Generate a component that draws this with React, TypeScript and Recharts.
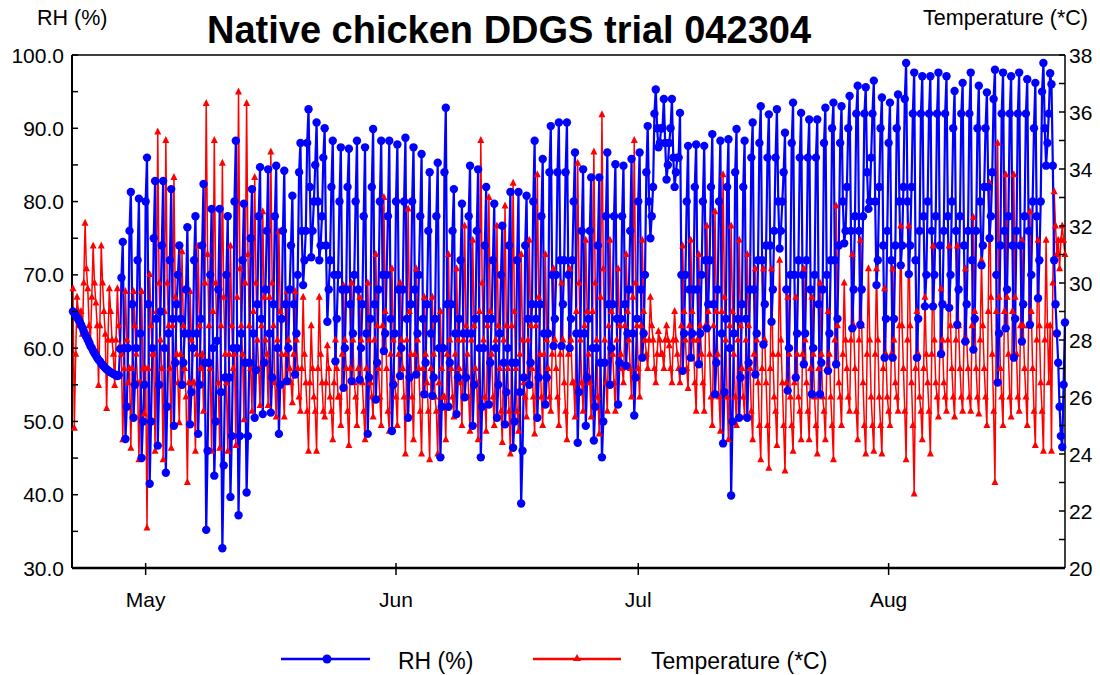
import React from "react";
import { LineChart, Line, XAxis, YAxis, ReferenceLine } from "recharts";

// time axis: days since Apr 22, six readings a day (00, 04, 08, 12, 16, 20 h)
const SAMPLES_PER_DAY = 6;
const monthTicks = [9, 40, 70, 101];
const monthLabels = ["May", "Jun", "Jul", "Aug"];
const rhTicks = [30, 35, 40, 45, 50, 55, 60, 65, 70, 75, 80, 85, 90, 95, 100];
const tempTicks = [20, 21, 22, 23, 24, 25, 26, 27, 28, 29, 30, 31, 32, 33, 34, 35, 36, 37, 38];

// RH (%), one row per day
const rhApr = [
  65.0, 64.8, 64.5, 64.2, 63.9, 63.6,
  63.2, 62.8, 62.3, 61.9, 61.5, 61.1,
  60.7, 60.3, 60.0, 59.6, 59.3, 59.0,
  58.7, 58.4, 58.2, 57.9, 57.7, 57.5,
  57.3, 57.1, 57.0, 56.8, 56.7, 56.6,
  56.5, 56.4, 56.3, 56.2, 56.3, 59.9,
  69.6, 74.5, 60.0, 47.6, 52.0, 60.0,
  76.0, 81.3, 66.0, 50.5, 55.0, 60.0,
  72.0, 80.4, 62.0, 45.0, 50.0, 55.0,
];
const rhMay = [
  80.0, 86.0, 66.0, 41.5, 50.0, 60.0,
  75.0, 82.8, 64.0, 46.7, 55.0, 65.0,
  74.0, 82.8, 60.0, 43.0, 52.0, 62.0,
  72.0, 81.7, 64.0, 49.4, 58.0, 66.0,
  70.0, 74.0, 64.0, 55.0, 58.0, 62.0,
  68.0, 76.5, 62.0, 49.6, 54.0, 60.0,
  72.0, 78.0, 62.0, 48.3, 55.0, 64.0,
  74.0, 82.4, 58.0, 35.2, 46.0, 58.0,
  70.0, 79.0, 60.0, 42.6, 50.0, 61.0,
  68.0, 79.0, 54.0, 32.7, 44.0, 56.0,
  70.0, 78.0, 56.0, 39.7, 48.0, 60.0,
  80.0, 88.3, 60.0, 37.2, 48.0, 62.0,
  72.0, 79.7, 58.0, 40.3, 48.0, 58.0,
  75.0, 81.7, 62.0, 50.5, 57.0, 66.0,
  78.0, 84.7, 64.0, 51.0, 58.0, 68.0,
  76.0, 84.4, 62.0, 51.2, 56.0, 66.0,
  78.0, 84.9, 60.0, 48.3, 55.0, 64.0,
  76.0, 84.2, 66.0, 55.5, 60.0, 68.0,
  74.0, 80.8, 66.0, 56.4, 62.0, 70.0,
  84.0, 88.0, 76.0, 68.6, 72.0, 76.0,
  88.0, 92.6, 82.0, 72.4, 76.0, 80.0,
  85.0, 90.8, 80.0, 72.0, 74.0, 78.0,
  86.0, 90.0, 74.0, 63.6, 68.0, 72.0,
  82.0, 88.3, 70.0, 58.2, 64.0, 70.0,
  80.0, 87.4, 68.0, 54.6, 60.0, 68.0,
  82.0, 87.2, 66.0, 55.5, 62.0, 70.0,
  80.0, 88.3, 68.0, 55.7, 60.0, 66.0,
  78.0, 87.4, 62.0, 48.3, 56.0, 64.0,
  82.0, 89.9, 66.0, 53.0, 58.0, 68.0,
  80.0, 88.3, 70.0, 59.6, 62.0, 70.0,
  78.0, 88.3, 64.0, 48.7, 55.0, 62.0,
];
const rhJun = [
  80.0, 87.8, 68.0, 56.2, 60.0, 68.0,
  80.0, 88.7, 64.0, 50.5, 56.0, 66.0,
  80.0, 87.4, 68.0, 56.4, 62.0, 70.0,
  78.0, 86.5, 64.0, 53.7, 58.0, 66.0,
  76.0, 84.0, 62.0, 53.5, 56.0, 64.0,
  78.0, 85.3, 60.0, 45.1, 52.0, 60.0,
  84.0, 92.8, 66.0, 52.0, 58.0, 66.0,
  76.0, 81.7, 62.0, 51.0, 56.0, 64.0,
  72.0, 79.7, 62.0, 53.3, 56.0, 62.0,
  78.0, 84.9, 62.0, 49.4, 55.0, 64.0,
  76.0, 84.4, 60.0, 45.1, 52.0, 60.0,
  74.0, 82.0, 64.0, 52.3, 58.0, 64.0,
  72.0, 79.7, 60.0, 50.5, 55.0, 62.0,
  70.0, 76.7, 58.0, 49.6, 54.0, 60.0,
  74.0, 81.3, 58.0, 46.4, 50.0, 58.0,
  72.0, 81.3, 54.0, 38.8, 46.0, 56.0,
  74.0, 80.8, 64.0, 55.0, 58.0, 66.0,
  80.0, 88.3, 64.0, 50.5, 56.0, 66.0,
  78.0, 85.8, 62.0, 52.3, 56.0, 62.0,
  84.0, 90.3, 70.0, 60.3, 64.0, 70.0,
  84.0, 90.8, 72.0, 60.3, 66.0, 72.0,
  84.0, 90.8, 70.0, 60.0, 64.0, 72.0,
  80.0, 86.7, 62.0, 47.1, 54.0, 62.0,
  76.0, 84.4, 62.0, 49.4, 56.0, 64.0,
  76.0, 83.3, 60.0, 47.4, 52.0, 60.0,
  74.0, 83.3, 58.0, 45.1, 50.0, 58.0,
  78.0, 86.7, 66.0, 55.0, 60.0, 66.0,
  78.0, 85.1, 64.0, 52.3, 58.0, 64.0,
  78.0, 84.9, 66.0, 57.6, 62.0, 68.0,
  76.0, 85.8, 62.0, 50.8, 56.0, 64.0,
];
const rhJul = [
  80.0, 86.7, 68.0, 58.7, 62.0, 70.0,
  84.0, 90.3, 80.0, 75.0, 78.0, 82.0,
  92.0, 95.3, 90.0, 87.4, 88.0, 90.0,
  90.0, 94.0, 88.0, 83.0, 85.0, 88.0,
  90.0, 94.0, 86.0, 82.0, 84.0, 86.0,
  86.0, 92.1, 70.0, 56.9, 62.0, 70.0,
  80.0, 87.6, 68.0, 58.7, 62.0, 68.0,
  82.0, 87.8, 68.0, 57.8, 62.0, 70.0,
  80.0, 87.6, 72.0, 62.7, 66.0, 72.0,
  82.0, 89.2, 66.0, 53.7, 58.0, 68.0,
  80.0, 88.3, 62.0, 47.0, 54.0, 64.0,
  82.0, 88.5, 60.0, 39.9, 50.0, 62.0,
  84.0, 89.9, 64.0, 50.5, 56.0, 66.0,
  82.0, 88.3, 64.0, 50.5, 58.0, 68.0,
  86.0, 90.8, 68.0, 56.4, 62.0, 72.0,
  88.0, 93.0, 72.0, 60.5, 66.0, 74.0,
  86.0, 91.9, 74.0, 63.6, 68.0, 76.0,
  86.0, 92.6, 80.0, 73.6, 76.0, 80.0,
  84.0, 89.4, 68.0, 54.2, 60.0, 70.0,
  88.0, 93.5, 70.0, 56.0, 62.0, 72.0,
  86.0, 92.1, 70.0, 57.8, 62.0, 72.0,
  86.0, 91.2, 68.0, 53.7, 60.0, 70.0,
  86.0, 91.2, 66.0, 53.7, 58.0, 68.0,
  88.0, 92.8, 70.0, 56.9, 62.0, 72.0,
  90.0, 93.5, 72.0, 57.8, 64.0, 74.0,
  88.0, 93.0, 80.0, 74.3, 76.0, 82.0,
  90.0, 94.4, 76.0, 62.7, 68.0, 78.0,
  92.0, 95.8, 76.0, 63.2, 68.0, 78.0,
  92.0, 95.6, 84.0, 79.0, 80.0, 86.0,
  92.0, 96.5, 80.0, 68.6, 72.0, 82.0,
  90.0, 94.2, 74.0, 58.7, 64.0, 76.0,
];
const rhAug = [
  88.0, 93.5, 72.0, 58.7, 64.0, 74.0,
  90.0, 94.6, 80.0, 71.3, 74.0, 82.0,
  94.0, 98.9, 80.0, 70.1, 74.0, 82.0,
  92.0, 97.6, 72.0, 58.7, 64.0, 76.0,
  92.0, 97.1, 78.0, 65.7, 70.0, 80.0,
  92.0, 97.1, 76.0, 65.7, 70.0, 78.0,
  92.0, 97.6, 74.0, 59.2, 66.0, 76.0,
  92.0, 97.1, 78.0, 65.5, 70.0, 80.0,
  90.0, 95.1, 76.0, 63.2, 68.0, 78.0,
  92.0, 96.2, 74.0, 60.9, 66.0, 76.0,
  92.0, 97.6, 72.0, 59.8, 64.0, 76.0,
  90.0, 95.8, 80.0, 71.3, 74.0, 82.0,
  90.0, 94.9, 82.0, 75.0, 78.0, 84.0,
  94.0, 98.0, 70.0, 55.3, 62.0, 74.0,
  92.0, 97.6, 76.0, 62.7, 68.0, 78.0,
  92.0, 97.1, 74.0, 58.7, 64.0, 76.0,
  92.0, 97.6, 74.0, 60.9, 66.0, 78.0,
  92.0, 96.7, 76.0, 63.2, 70.0, 80.0,
  90.0, 96.2, 78.0, 66.8, 72.0, 80.0,
  95.0, 98.9, 90.0, 84.9, 88.0, 92.0,
  97.5, 96.0, 84.9, 72.0, 66.0, 62.0,
  58.0, 52.0, 48.0, 46.5, 55.0, 63.5,
];

// Temperature (*C), one row per day
const tempApr = [
  29.8, 24.9, 27.5, 29.5, 29.0, 28.5,
  29.0, 28.2, 30.0, 32.1, 30.5, 29.8,
  28.5, 28.0, 29.5, 31.3, 30.0, 29.3,
  28.5, 26.4, 28.5, 31.3, 30.0, 29.0,
  28.2, 25.6, 28.0, 29.8, 29.0, 28.0,
  27.5, 26.4, 28.0, 29.8, 28.5, 27.8,
  27.5, 24.5, 27.0, 29.7, 28.0, 26.5,
  27.0, 24.2, 27.0, 29.7, 28.5, 27.5,
  26.5, 23.8, 26.5, 29.7, 27.0, 25.4,
];
const tempMay = [
  27.0, 21.4, 27.0, 30.3, 28.5, 27.5,
  27.5, 24.1, 29.0, 35.3, 30.0, 28.0,
  27.0, 23.8, 29.0, 35.0, 30.0, 28.5,
  27.0, 24.2, 28.5, 33.7, 29.5, 27.5,
  26.5, 25.1, 27.5, 31.1, 28.5, 27.0,
  26.0, 23.0, 26.5, 29.7, 28.0, 26.5,
  26.5, 24.1, 27.5, 31.3, 28.5, 27.0,
  27.5, 25.5, 30.0, 36.3, 31.0, 28.5,
  27.0, 24.1, 29.0, 35.0, 30.0, 28.0,
  26.5, 24.2, 28.5, 34.2, 29.5, 27.5,
  26.5, 24.1, 27.5, 31.3, 28.5, 27.0,
  27.5, 24.3, 29.5, 36.7, 30.5, 28.5,
  27.5, 25.2, 30.0, 36.3, 31.0, 28.5,
  27.0, 25.5, 29.0, 33.7, 30.0, 28.0,
  27.0, 25.7, 28.5, 32.5, 29.5, 28.0,
  27.5, 25.7, 29.5, 34.6, 30.0, 28.5,
  26.5, 25.3, 28.0, 31.8, 29.0, 27.5,
  26.5, 25.3, 27.5, 29.7, 28.0, 27.0,
  26.5, 25.8, 27.5, 29.7, 28.0, 27.0,
  26.0, 25.5, 27.0, 29.5, 27.5, 26.5,
  25.5, 24.1, 26.5, 28.5, 27.0, 26.0,
  25.5, 24.1, 27.0, 29.5, 27.5, 26.5,
  25.5, 25.3, 26.5, 27.8, 27.0, 26.0,
  25.5, 24.5, 26.5, 28.0, 27.0, 26.0,
  26.0, 25.0, 27.5, 29.9, 28.0, 27.0,
  25.5, 24.3, 27.0, 30.0, 28.0, 26.5,
  26.0, 25.0, 27.0, 29.5, 28.0, 26.5,
  25.5, 24.5, 27.0, 30.0, 28.0, 26.5,
  26.0, 25.3, 28.0, 31.0, 28.5, 27.0,
  26.0, 25.0, 28.5, 33.0, 29.0, 27.0,
  25.5, 24.8, 27.5, 30.5, 28.0, 26.5,
];
const tempJun = [
  26.0, 25.0, 27.5, 30.0, 28.0, 27.0,
  26.0, 24.0, 28.0, 32.6, 29.0, 27.5,
  26.0, 24.5, 27.5, 30.5, 28.0, 27.0,
  25.5, 24.0, 27.0, 29.5, 27.5, 26.5,
  25.5, 23.8, 27.0, 29.5, 27.5, 26.0,
  25.5, 24.0, 26.5, 29.0, 27.0, 26.0,
  26.0, 24.5, 27.5, 31.0, 28.0, 27.0,
  26.0, 25.3, 27.5, 30.5, 28.0, 27.0,
  26.5, 25.0, 28.0, 32.0, 28.5, 27.5,
  26.0, 24.8, 28.0, 31.5, 28.5, 27.0,
  26.5, 24.5, 29.0, 35.0, 30.0, 28.0,
  26.0, 24.8, 28.5, 33.0, 29.0, 27.5,
  26.0, 25.0, 28.0, 32.0, 28.5, 27.0,
  25.5, 24.4, 28.0, 32.7, 28.5, 27.0,
  25.5, 24.0, 28.5, 33.5, 29.0, 27.0,
  25.5, 24.8, 27.5, 31.0, 28.0, 26.5,
  26.0, 25.3, 28.0, 31.5, 28.5, 27.0,
  26.0, 24.7, 28.5, 33.8, 29.5, 27.5,
  26.0, 25.0, 27.5, 31.0, 28.0, 27.0,
  26.0, 25.5, 27.5, 30.5, 28.0, 27.0,
  26.0, 25.0, 27.5, 30.0, 28.0, 26.5,
  25.5, 24.5, 27.5, 30.5, 28.0, 26.5,
  26.5, 25.3, 29.0, 34.2, 30.0, 28.0,
  26.5, 25.5, 28.5, 31.5, 29.0, 27.5,
  26.5, 25.3, 29.0, 34.6, 30.0, 28.0,
  26.0, 24.7, 29.5, 35.9, 30.5, 28.0,
  26.5, 25.5, 28.5, 31.5, 29.0, 27.5,
  26.5, 25.5, 28.0, 30.5, 28.5, 27.5,
  27.0, 26.5, 28.5, 31.0, 29.0, 28.0,
  27.0, 26.0, 29.5, 35.0, 30.0, 28.5,
];
const tempJul = [
  27.0, 26.0, 28.5, 31.5, 29.0, 28.0,
  27.5, 27.0, 28.0, 29.5, 28.5, 28.0,
  27.0, 26.5, 27.5, 28.3, 28.0, 27.5,
  27.5, 27.0, 28.0, 28.5, 28.0, 27.8,
  27.0, 26.5, 28.0, 29.0, 28.0, 27.5,
  27.0, 26.5, 28.5, 31.3, 29.0, 28.0,
  27.0, 26.3, 28.5, 31.5, 29.0, 28.0,
  26.5, 25.5, 28.0, 31.0, 28.5, 27.5,
  26.5, 25.5, 28.5, 32.0, 29.0, 27.5,
  26.0, 25.0, 28.5, 32.5, 29.0, 27.5,
  26.0, 24.8, 29.0, 33.8, 29.5, 28.0,
  26.0, 24.5, 28.5, 32.0, 29.0, 27.5,
  26.0, 25.0, 28.0, 31.5, 28.5, 27.0,
  26.0, 25.3, 28.0, 31.0, 28.5, 27.0,
  25.5, 24.5, 27.5, 30.5, 28.0, 26.5,
  25.0, 23.8, 27.0, 30.5, 28.0, 26.5,
  25.0, 23.5, 27.0, 30.5, 27.5, 26.0,
  25.5, 24.3, 27.5, 30.8, 28.0, 26.5,
  25.0, 23.4, 26.5, 29.5, 27.5, 26.0,
  25.0, 24.1, 26.5, 29.5, 27.5, 26.0,
  25.5, 24.5, 27.5, 30.5, 28.0, 26.5,
  25.5, 24.5, 27.0, 29.5, 27.5, 26.0,
  25.0, 24.0, 27.0, 30.0, 27.5, 26.0,
  25.5, 24.5, 27.0, 29.0, 27.5, 26.0,
  25.0, 23.8, 28.0, 32.7, 28.5, 26.5,
  26.0, 25.0, 27.5, 30.0, 28.0, 27.0,
  26.0, 25.5, 28.0, 31.0, 28.5, 27.0,
  25.5, 24.5, 28.0, 31.5, 28.5, 26.5,
  25.0, 24.0, 27.5, 30.5, 28.0, 26.0,
  25.0, 24.1, 27.5, 30.5, 28.0, 26.0,
  25.0, 24.0, 27.0, 29.8, 27.5, 26.0,
];
const tempAug = [
  25.5, 25.0, 27.5, 30.5, 28.0, 26.5,
  26.0, 25.5, 28.5, 32.0, 28.5, 27.0,
  25.5, 23.8, 28.0, 32.0, 28.5, 26.5,
  25.0, 22.6, 27.0, 29.0, 27.5, 26.0,
  25.5, 24.5, 27.0, 29.5, 27.5, 26.5,
  25.5, 24.0, 27.5, 31.3, 28.0, 26.5,
  26.0, 25.3, 27.5, 29.8, 28.0, 26.5,
  26.0, 25.5, 28.0, 31.3, 28.5, 27.0,
  26.0, 25.3, 28.0, 31.3, 28.5, 27.0,
  26.0, 25.5, 28.0, 30.5, 28.0, 27.0,
  26.0, 25.5, 28.5, 32.3, 29.0, 27.0,
  26.0, 25.4, 28.0, 30.8, 28.5, 27.0,
  26.0, 25.0, 29.0, 33.5, 29.5, 27.5,
  25.5, 23.0, 29.0, 34.9, 29.5, 27.0,
  26.0, 25.0, 29.0, 33.8, 29.5, 27.5,
  26.0, 25.3, 29.0, 33.8, 29.5, 27.5,
  26.0, 25.5, 28.5, 31.5, 28.5, 27.0,
  26.0, 25.0, 28.5, 32.5, 29.0, 27.0,
  25.5, 24.3, 28.0, 31.5, 28.5, 26.5,
  25.5, 24.1, 28.0, 31.5, 28.5, 26.5,
  28.5, 24.1, 30.0, 33.2, 32.0, 31.0,
  31.5, 30.5, 31.5, 32.0, 31.5, 31.0,
];

const rhValues = [...rhApr, ...rhMay, ...rhJun, ...rhJul, ...rhAug];
const tempValues = [...tempApr, ...tempMay, ...tempJun, ...tempJul, ...tempAug];

const data = rhValues.map((rh, i) => ({
  t: i / SAMPLES_PER_DAY,
  rh,
  temp: tempValues[i],
}));

const FONT = '"Liberation Sans", Arial, Helvetica, sans-serif';
const BLUE = "#0000ff";
const RED = "#ff0000";

function RhTick({ x, y, payload }: any) {
  const ax = x + 8; // axis line sits tickMargin to the right of the label
  const v = payload.value as number;
  return (
    <g>
      <line x1={ax} x2={ax + 6} y1={y} y2={y} stroke="#000" strokeWidth={1.5} />
      {v % 10 === 0 && (
        <text x={x} y={y} dy="0.36em" textAnchor="end" fontSize={21} fontFamily={FONT} fill="#000">
          {v.toFixed(1)}
        </text>
      )}
    </g>
  );
}

function TempTick({ x, y, payload }: any) {
  const ax = x - 4;
  const v = payload.value as number;
  return (
    <g>
      <line x1={ax - 6} x2={ax} y1={y} y2={y} stroke="#000" strokeWidth={1.5} />
      {v % 2 === 0 && (
        <text x={x} y={y} dy="0.36em" textAnchor="start" fontSize={21} fontFamily={FONT} fill="#000">
          {v}
        </text>
      )}
    </g>
  );
}

function MonthTick({ x, y, payload }: any) {
  const label = monthLabels[monthTicks.indexOf(payload.value)];
  return (
    <g>
      <line x1={x} x2={x} y1={y - 5} y2={y + 7} stroke="#000" strokeWidth={1.5} />
      <text x={x} y={y + 39} textAnchor="middle" fontSize={21} fontFamily={FONT} fill="#000">
        {label}
      </text>
    </g>
  );
}

const renderTriangle = (p: any) => {
  const { cx, cy, index } = p;
  if (cx == null || cy == null) return <g key={index} />;
  return (
    <polygon
      key={index}
      points={`${cx},${cy - 4.5} ${cx - 3.5},${cy + 2.5} ${cx + 3.5},${cy + 2.5}`}
      fill={RED}
    />
  );
};

export default function App() {
  return (
    <div style={{ position: "absolute", left: 0, top: 0, width: 1100, height: 675, background: "#fff" }}>
      <LineChart width={1100} height={675} data={data} margin={{ top: 55, right: 0, left: 0, bottom: 67 }}>
        <XAxis
          dataKey="t"
          type="number"
          domain={[-0.12, 122.84]}
          ticks={monthTicks}
          interval={0}
          tickSize={0}
          tickMargin={0}
          tickLine={false}
          tick={MonthTick}
          height={40}
          axisLine={{ stroke: "#000", strokeWidth: 2.5 }}
        />
        <YAxis
          yAxisId="rh"
          orientation="left"
          width={72}
          domain={[30, 100]}
          ticks={rhTicks}
          interval={0}
          tickSize={0}
          tickMargin={8}
          tickLine={false}
          tick={RhTick}
          axisLine={{ stroke: "#000", strokeWidth: 2 }}
        />
        <YAxis
          yAxisId="t"
          orientation="right"
          width={35}
          domain={[20, 38]}
          ticks={tempTicks}
          interval={0}
          tickSize={0}
          tickMargin={4}
          tickLine={false}
          tick={TempTick}
          axisLine={{ stroke: "#000", strokeWidth: 1.5 }}
        />
        <ReferenceLine yAxisId="rh" y={100} stroke="#000" strokeWidth={1.5} />
        <Line
          yAxisId="t"
          dataKey="temp"
          type="linear"
          stroke={RED}
          strokeWidth={1.5}
          dot={renderTriangle}
          activeDot={false}
          isAnimationActive={false}
        />
        <Line
          yAxisId="rh"
          dataKey="rh"
          type="linear"
          stroke={BLUE}
          strokeWidth={2.2}
          dot={{ r: 4.2, fill: BLUE, stroke: BLUE, strokeWidth: 0 }}
          activeDot={false}
          isAnimationActive={false}
        />
      </LineChart>
      <svg
        width={1100}
        height={675}
        style={{ position: "absolute", left: 0, top: 0, pointerEvents: "none" }}
        fontFamily={FONT}
      >
        <text x={509} y={43} textAnchor="middle" fontSize={38} fontWeight="bold" fill="#000">
          Native chicken DDGS trial 042304
        </text>
        <text x={37} y={25} fontSize={21.5} fill="#000">RH (%)</text>
        <text x={1088} y={25} textAnchor="end" fontSize={21.5} fill="#000">Temperature (*C)</text>
        <line x1={281} x2={370} y1={659} y2={659} stroke={BLUE} strokeWidth={2.5} />
        <circle cx={327} cy={659} r={4.5} fill={BLUE} />
        <text x={398} y={669} fontSize={23} fill="#000">RH (%)</text>
        <line x1={533} x2={621} y1={659} y2={659} stroke={RED} strokeWidth={2.5} />
        <polygon points="577,654 573,661 581,661" fill={RED} />
        <text x={651} y={669} fontSize={23} fill="#000">Temperature (*C)</text>
      </svg>
    </div>
  );
}
